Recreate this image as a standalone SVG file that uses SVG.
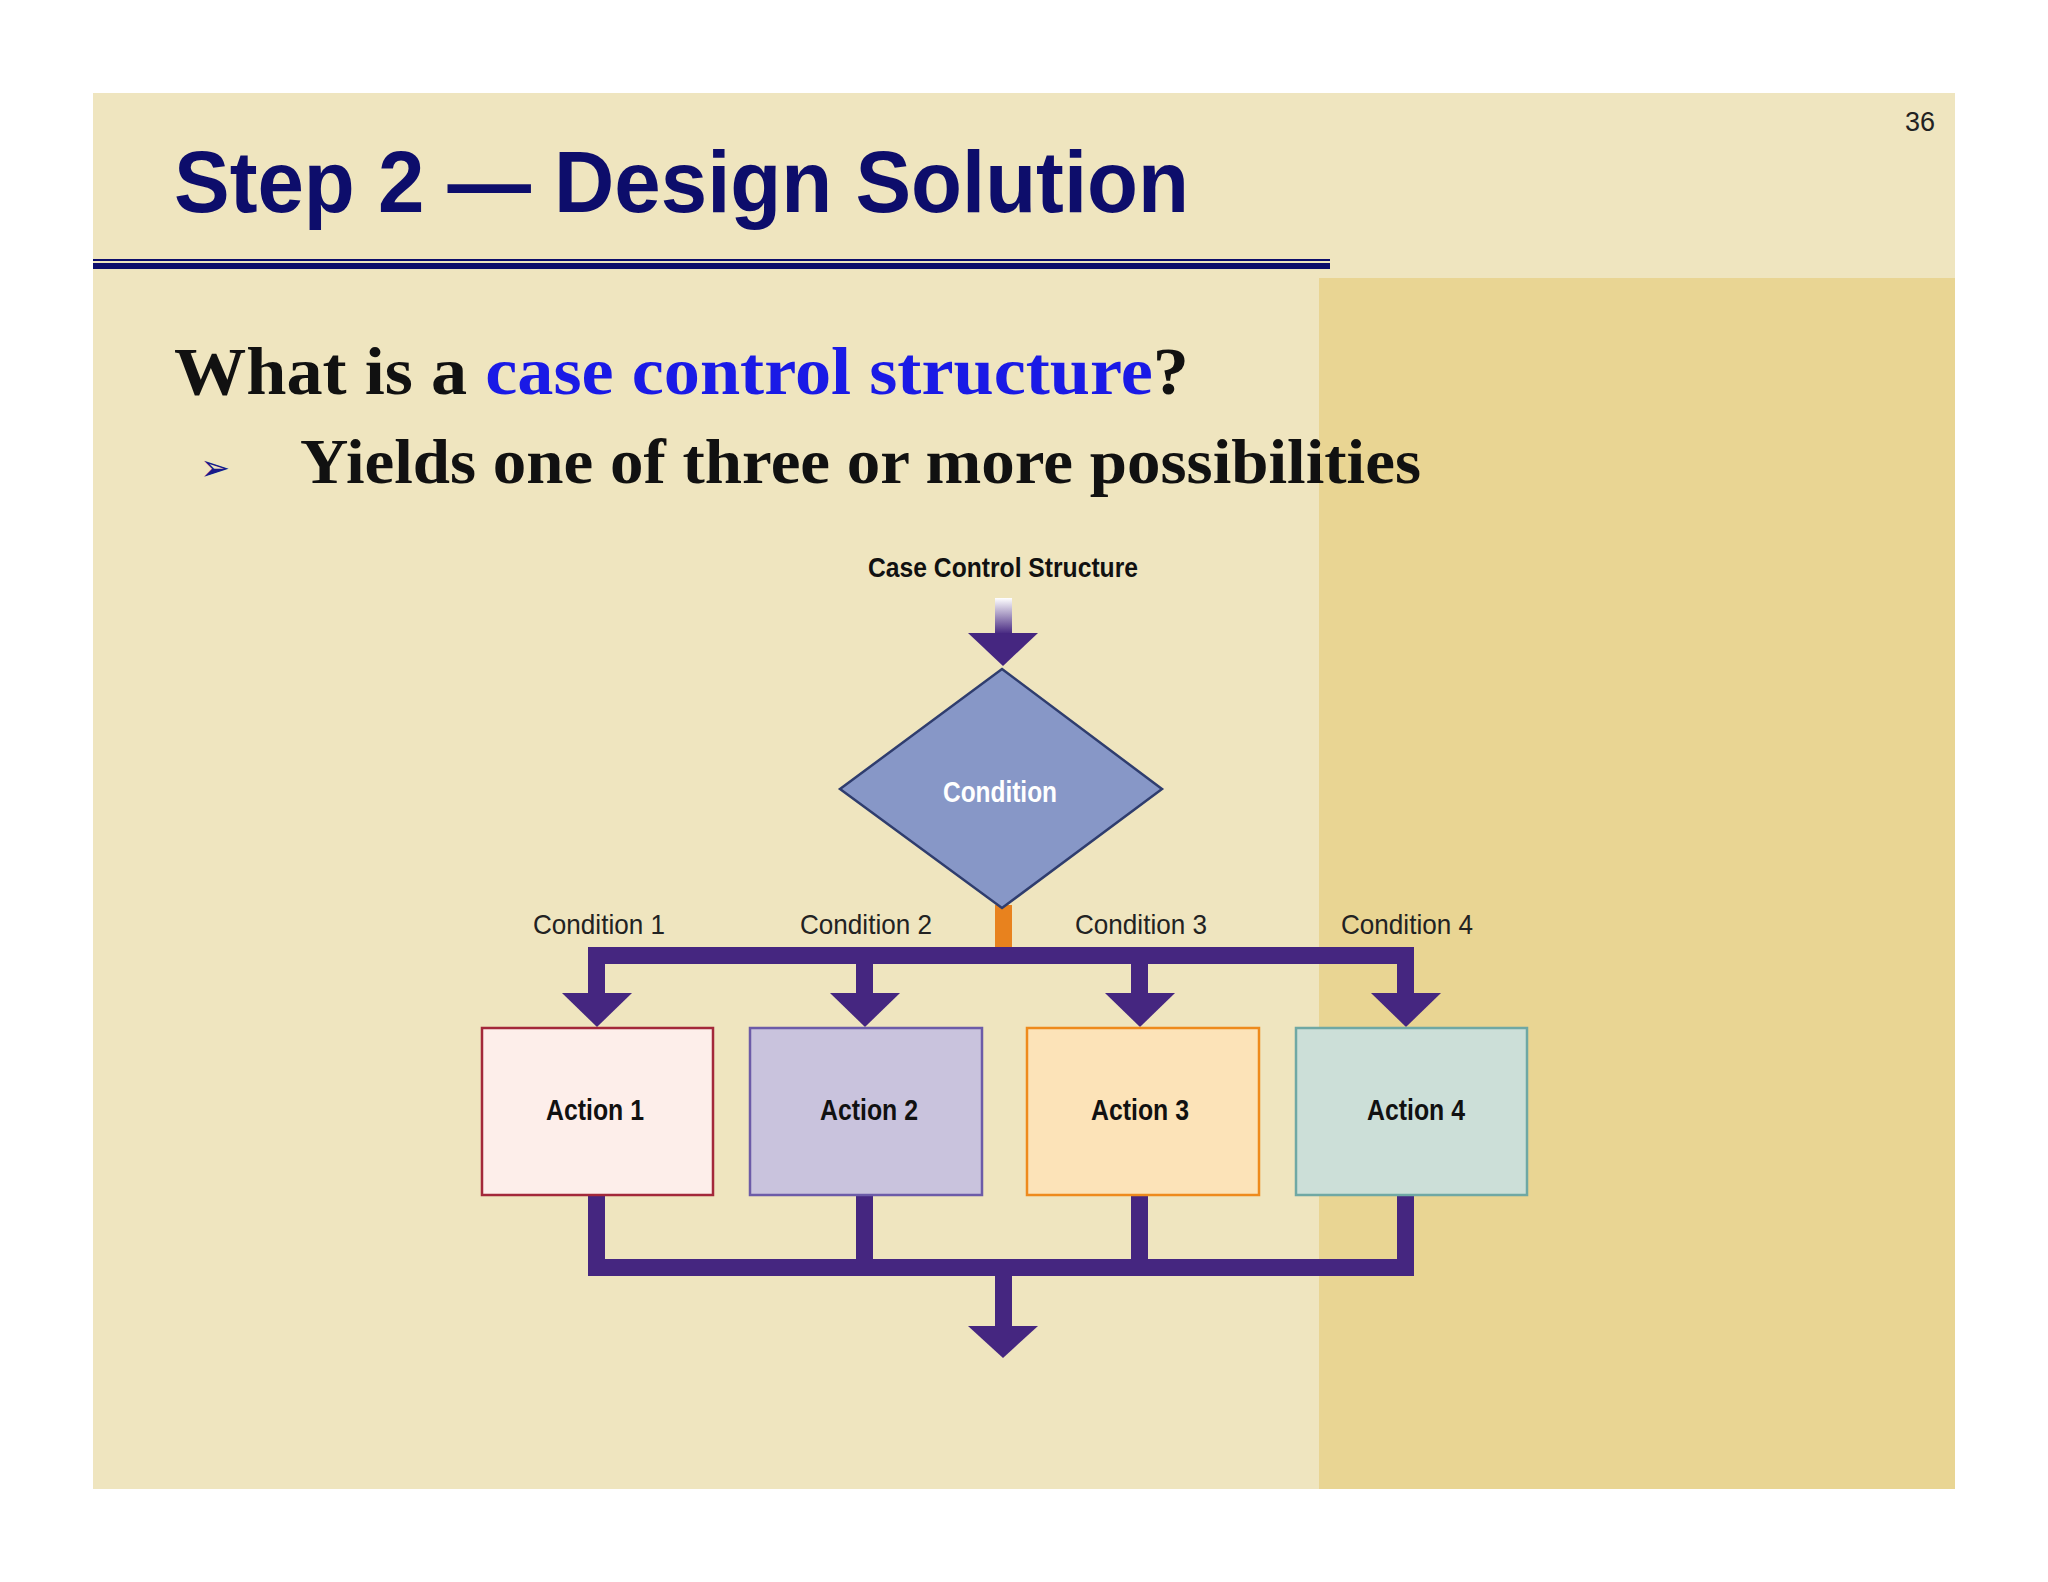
<svg xmlns="http://www.w3.org/2000/svg" width="2048" height="1582" viewBox="0 0 2048 1582">
<defs>
<style>
.lbl{font-family:"Liberation Sans",Arial,sans-serif;font-size:28px;fill:#222;text-anchor:middle}
.act{font-family:"Liberation Sans",Arial,sans-serif;font-size:29px;font-weight:bold;fill:#111;text-anchor:middle}
.p{fill:#452680}
</style>
<linearGradient id="g" x1="0" y1="0" x2="0" y2="1"><stop offset="0" stop-color="#ffffff"/><stop offset="1" stop-color="#452680"/></linearGradient>
</defs>
<rect width="2048" height="1582" fill="#fff"/>
<rect x="93" y="93" width="1862" height="1396" fill="#EFE5BF"/>
<rect x="1319" y="278" width="636" height="1211" fill="#E9D593"/>
<text x="174" y="212" font-family="Liberation Sans,Arial,sans-serif" font-weight="bold" font-size="88" fill="#0D0D6B" textLength="1015" lengthAdjust="spacingAndGlyphs">Step 2 — Design Solution</text>
<text x="1920" y="131" font-family="Liberation Sans,Arial,sans-serif" font-size="27" fill="#222" text-anchor="middle">36</text>
<rect x="93" y="259" width="1237" height="2" fill="#0D0D6B"/>
<rect x="93" y="263" width="1237" height="6" fill="#0D0D6B"/>
<text x="174" y="394" font-family="Liberation Serif,Times New Roman,serif" font-weight="bold" font-size="68" fill="#111" textLength="1015" lengthAdjust="spacingAndGlyphs">What is a <tspan fill="#1A1AE6">case control structure</tspan>?</text>
<text x="200" y="480" font-family="DejaVu Sans,sans-serif" font-size="36" fill="#1A1A8A">➢</text>
<text x="300" y="483" font-family="Liberation Serif,Times New Roman,serif" font-weight="bold" font-size="64" fill="#111" textLength="1121" lengthAdjust="spacingAndGlyphs">Yields one of three or more possibilities</text>

<g id="connectors">
<rect x="995" y="598" width="17" height="36" fill="url(#g)"/>
<polygon class="p" points="968,633 1038,633 1003,666"/>
<rect x="995" y="905" width="17" height="44" fill="#E8821E"/>
<rect class="p" x="588" y="947" width="826" height="17"/>
<rect class="p" x="588" y="947" width="17" height="48"/><polygon class="p" points="562,993 632,993 597,1027"/>
<rect class="p" x="856" y="947" width="17" height="48"/><polygon class="p" points="830,993 900,993 865,1027"/>
<rect class="p" x="1131" y="947" width="17" height="48"/><polygon class="p" points="1105,993 1175,993 1140,1027"/>
<rect class="p" x="1397" y="947" width="17" height="48"/><polygon class="p" points="1371,993 1441,993 1406,1027"/>
<rect class="p" x="588" y="1195" width="17" height="81"/>
<rect class="p" x="856" y="1195" width="17" height="81"/>
<rect class="p" x="1131" y="1195" width="17" height="81"/>
<rect class="p" x="1397" y="1195" width="17" height="81"/>
<rect class="p" x="588" y="1259" width="826" height="17"/>
<rect class="p" x="995" y="1276" width="17" height="51"/>
<polygon class="p" points="968,1326 1038,1326 1003,1358"/>
</g>
<text x="1003" y="577" font-family="Liberation Sans,Arial,sans-serif" font-weight="bold" font-size="27" fill="#111" text-anchor="middle" textLength="270" lengthAdjust="spacingAndGlyphs">Case Control Structure</text>
<text class="lbl" x="599" y="934" textLength="132" lengthAdjust="spacingAndGlyphs">Condition 1</text>
<text class="lbl" x="866" y="934" textLength="132" lengthAdjust="spacingAndGlyphs">Condition 2</text>
<text class="lbl" x="1141" y="934" textLength="132" lengthAdjust="spacingAndGlyphs">Condition 3</text>
<text class="lbl" x="1407" y="934" textLength="132" lengthAdjust="spacingAndGlyphs">Condition 4</text>
<g id="condition">
<polygon points="1002,669 1162,789 1002,908 840,789" fill="#8797C7" stroke="#2F3D6E" stroke-width="2.5"/>
<text x="1000" y="802" font-family="Liberation Sans,Arial,sans-serif" font-weight="bold" font-size="29" fill="#fff" text-anchor="middle" textLength="114" lengthAdjust="spacingAndGlyphs">Condition</text>
</g>
<g id="action1"><rect x="482" y="1028" width="231" height="167" fill="#FDEEEA" stroke="#A3283A" stroke-width="2.5"/><text class="act" x="595" y="1120" textLength="98" lengthAdjust="spacingAndGlyphs">Action 1</text></g>
<g id="action2"><rect x="750" y="1028" width="232" height="167" fill="#C9C3DD" stroke="#6C5BA8" stroke-width="2.5"/><text class="act" x="869" y="1120" textLength="98" lengthAdjust="spacingAndGlyphs">Action 2</text></g>
<g id="action3"><rect x="1027" y="1028" width="232" height="167" fill="#FCE3B8" stroke="#EE8A1C" stroke-width="2.5"/><text class="act" x="1140" y="1120" textLength="98" lengthAdjust="spacingAndGlyphs">Action 3</text></g>
<g id="action4"><rect x="1296" y="1028" width="231" height="167" fill="#CCDFD8" stroke="#6FA8A4" stroke-width="2.5"/><text class="act" x="1416" y="1120" textLength="98" lengthAdjust="spacingAndGlyphs">Action 4</text></g>
</svg>
